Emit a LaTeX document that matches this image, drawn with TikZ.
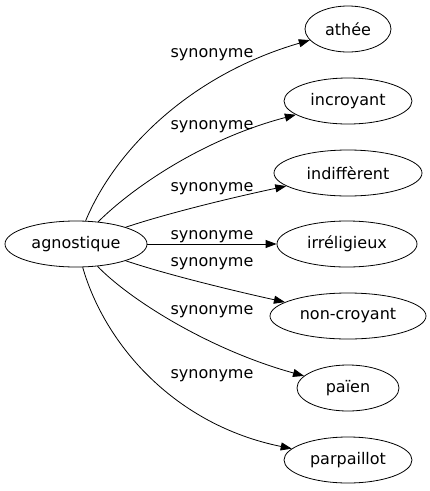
\documentclass[tikz,border=0pt]{standalone}
\usepackage{fontspec}
\setmainfont{DejaVu Sans}
\usetikzlibrary{arrows.meta,shapes.geometric}
\begin{document}
\begin{tikzpicture}[x=1pt,y=-1pt,
  term/.style={ellipse,draw,line width=0.8pt,inner sep=0pt,minimum height=46pt,font=\fontsize{16}{18}\selectfont},
  lab/.style={font=\fontsize{16}{18}\selectfont,inner sep=0pt},
  rel/.style={line width=0.8pt,-{Triangle[length=11pt,width=8pt]}}]
\useasboundingbox (0,0) rectangle (430,491);
\node[term,minimum width=142pt] (a) at (76,244) {agnostique};
\node[term,minimum width=86pt] (athee) at (348,29) {athée};
\node[term,minimum width=128pt] (incr) at (348,101) {incroyant};
\node[term,minimum width=148pt] (indi) at (348,173) {indiffèrent};
\node[term,minimum width=140pt] (irre) at (347,244) {irréligieux};
\node[term,minimum width=156pt] (nonc) at (348,316) {non-croyant};
\node[term,minimum width=102pt] (paien) at (348,388) {païen};
\node[term,minimum width=128pt] (parp) at (348,460) {parpaillot};
\draw[rel] (a) .. controls (115,150) and (190,75) .. (athee);
\draw[rel] (a) .. controls (130,190) and (200,140) .. (incr);
\draw[rel] (a) .. controls (165,214) and (230,198) .. (indi);
\draw[rel] (a) -- (irre);
\draw[rel] (a) .. controls (165,274) and (230,290) .. (nonc);
\draw[rel] (a) .. controls (130,300) and (210,350) .. (paien);
\draw[rel] (a) .. controls (105,345) and (175,425) .. (parp);
\node[lab] (l1) at (212,55) {synonyme};
\node[lab] (l2) at (212,127) {synonyme};
\node[lab] (l3) at (212,189) {synonyme};
\node[lab] (l4) at (212,237) {synonyme};
\node[lab] (l5) at (212,264) {synonyme};
\node[lab] (l6) at (212,312) {synonyme};
\node[lab] (l7) at (212,376) {synonyme};
\end{tikzpicture}
\end{document}
